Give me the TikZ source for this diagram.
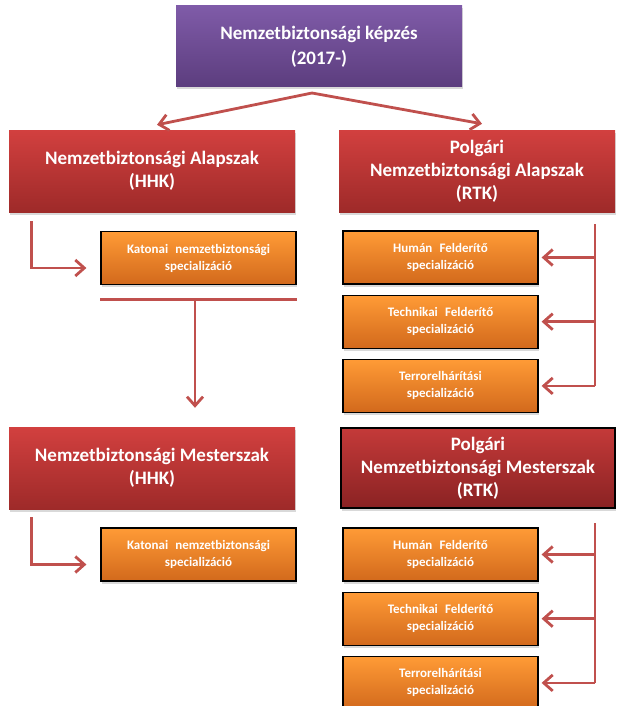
\documentclass[tikz,border=0pt]{standalone}
\usepackage{fontspec}
\setmainfont{Carlito}
\usetikzlibrary{positioning}
\usetikzlibrary{shadows}
\usetikzlibrary{arrows.meta}
\definecolor{headtop}{HTML}{7F5BA8}
\definecolor{headbot}{HTML}{5C3D7E}
\definecolor{degtop}{HTML}{D2403F}
\definecolor{degbot}{HTML}{9E2A29}
\definecolor{darktop}{HTML}{C43A39}
\definecolor{darkbot}{HTML}{8A2223}
\definecolor{spectop}{HTML}{FF9B36}
\definecolor{specbot}{HTML}{D2691C}
\definecolor{linkred}{HTML}{C0504D}
\newcommand{\widespace}{\spaceskip=0.55em\relax}
\tikzstyle{box} = [rectangle, inner sep=0pt, align=center, text=white,
drop shadow={opacity=0.3, shadow xshift=1pt, shadow yshift=-2.5pt}]
\tikzstyle{head} = [box, minimum width=286pt, minimum height=81pt,
top color=headtop, bottom color=headbot, font=\fontsize{19}{25}\selectfont\bfseries]
\tikzstyle{degree} = [box, minimum width=286pt, minimum height=82pt,
top color=degtop, bottom color=degbot, font=\fontsize{19}{23}\selectfont\bfseries]
\tikzstyle{degreedark} = [degree, draw=black, line width=1.2pt, minimum width=274pt,
minimum height=80pt, top color=darktop, bottom color=darkbot]
\tikzstyle{track} = [box, draw=black, line width=1.2pt, minimum width=195pt,
minimum height=53pt, top color=spectop, bottom color=specbot,
font=\fontsize{13}{17}\selectfont\bfseries\widespace, node distance=10pt]
\tikzstyle{link} = [draw=linkred, line width=2.8pt]
\tikzset{>={Straight Barb[length=9pt, width=16pt]}}
\newcommand{\feedrail}[2]{ %
  % Rail #1 feeds all nodes #2 from the right.
  \foreach \y in {#2} { %
    \draw[link,->] (#1 |- \y.east) -- ([xshift=3pt]\y.east) ;%
  } ;
}

\begin{document}
\begin{tikzpicture}[x=1pt, y=-1pt]
  \useasboundingbox (0,0) rectangle (617,706);

  \node[head] (top) at (319,46.5) {Nemzetbiztonsági képzés\\(2017-)};

  % alapszak
  \node[degree] (hhk1) at (152,171) {Nemzetbiztonsági Alapszak\\(HHK)};
  \node[degree, minimum width=276pt] (rtk1) at (477,171)
    {Polgári\\Nemzetbiztonsági Alapszak\\(RTK)};
  \node[track] (spec1) at (198.5,258) {Katonai nemzetbiztonsági\\specializáció};
  \node[track] (hum1) at (440.5,257.5) {Humán Felderítő\\specializáció};
  \node[track, below=of hum1] (tech1) {Technikai Felderítő\\specializáció};
  \node[track, below=of tech1] (ter1) {Terrorelhárítási\\specializáció};

  % mesterszak
  \node[degree] (hhk2) at (152,468) {Nemzetbiztonsági Mesterszak\\(HHK)};
  \node[degreedark] (rtk2) at (478,468)
    {Polgári\\Nemzetbiztonsági Mesterszak\\(RTK)};
  \node[track] (spec2) at (198.5,554.5) {Katonai nemzetbiztonsági\\specializáció};
  \node[track] (hum2) at (440.5,554.5) {Humán Felderítő\\specializáció};
  \node[track, below=of hum2] (tech2) {Technikai Felderítő\\specializáció};
  \node[track, below=of tech2] (ter2) {Terrorelhárítási\\specializáció};

  \coordinate (fork) at (312,93);
  \draw[link,->] (fork) -- ([xshift=5pt,yshift=5pt]hhk1.north);
  \draw[link,->] (fork) -- ([xshift=5pt,yshift=6pt]rtk1.north);

  \draw[link,->] ([xshift=23pt,yshift=-9pt]hhk1.south west)
    |- ([xshift=-14pt,yshift=-10pt]spec1.west);
  \draw[link,->] ([xshift=23pt,yshift=-8pt]hhk2.south west)
    |- ([xshift=-14pt,yshift=-10pt]spec2.west);

  \draw[link] ([yshift=-14pt]spec1.south west) -- ([yshift=-14pt]spec1.south east);
  \coordinate (drop) at ([xshift=-3.5pt,yshift=-14pt]spec1.south);
  \draw[link,->] (drop) -- ([yshift=19pt]drop |- hhk2.north);

  \coordinate (rail1) at (595,224);
  \draw[link] (rail1) -- (rail1 |- ter1.east);
  \feedrail{rail1}{hum1,tech1,ter1}
  \coordinate (rail2) at (595,523);
  \draw[link] (rail2) -- (rail2 |- ter2.east);
  \feedrail{rail2}{hum2,tech2,ter2}
\end{tikzpicture}
\end{document}
